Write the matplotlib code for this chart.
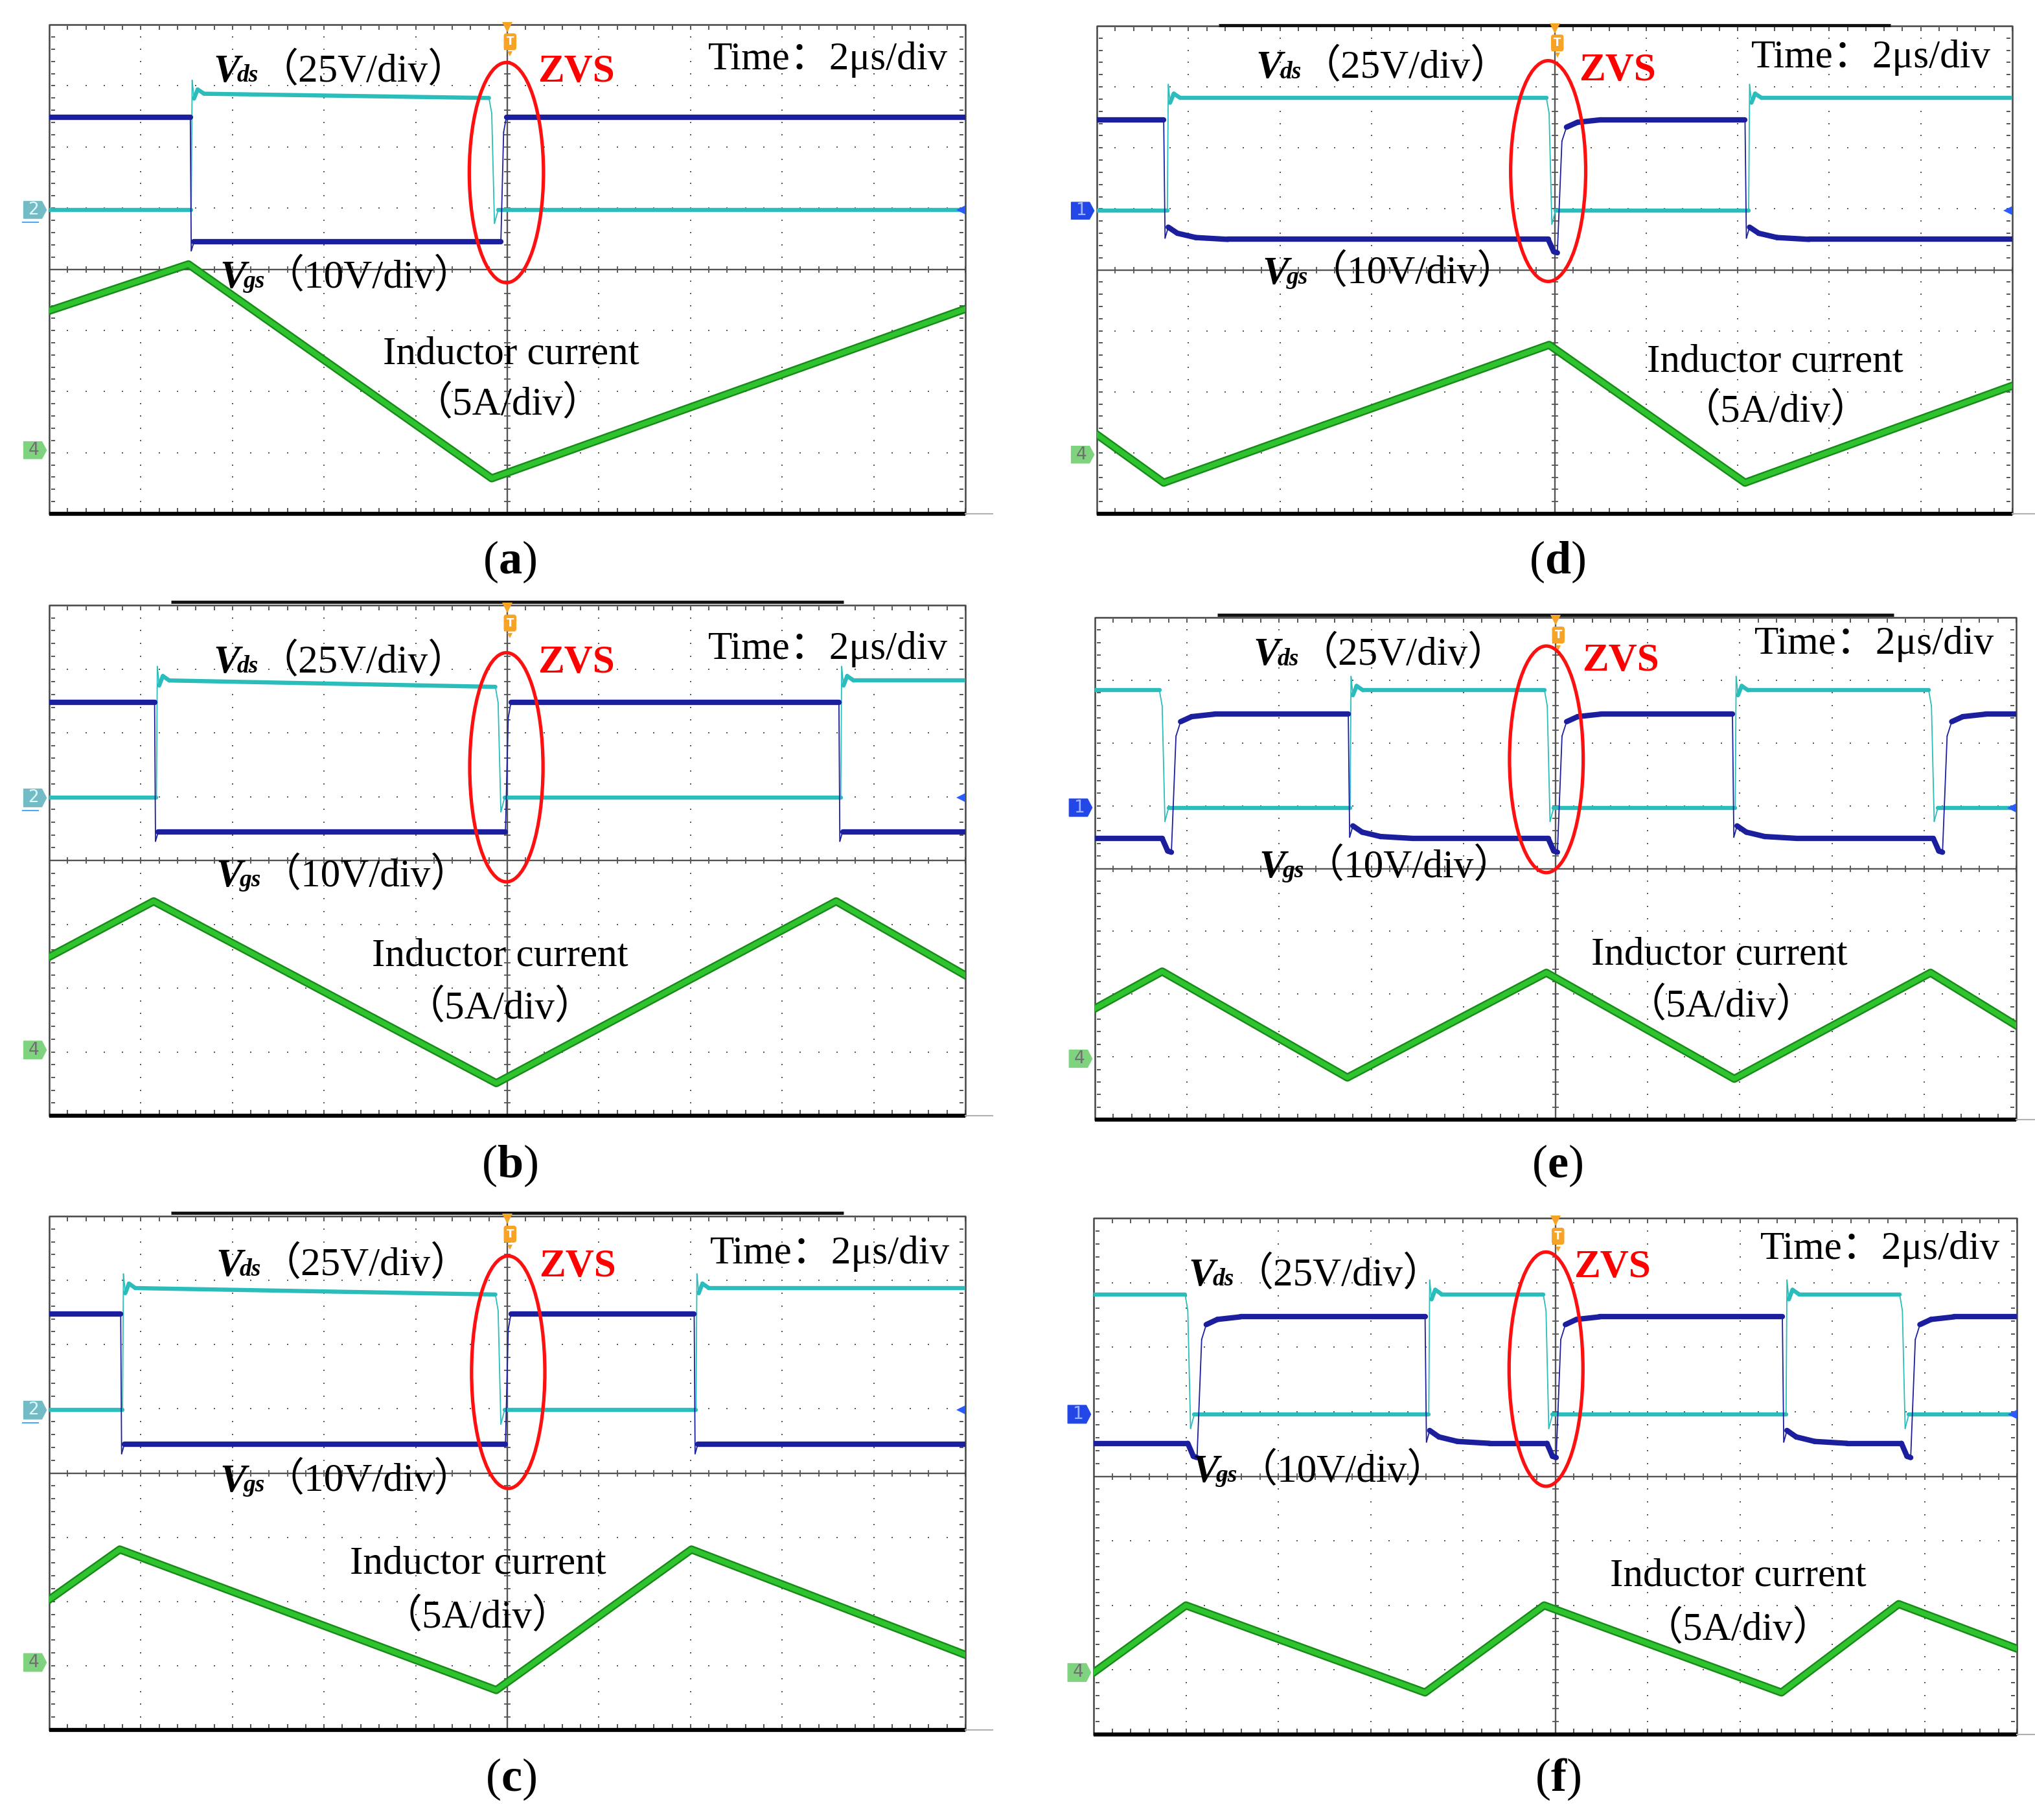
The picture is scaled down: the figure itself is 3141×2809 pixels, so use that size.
import numpy as np
import matplotlib
matplotlib.use("Agg")
import matplotlib.pyplot as plt
from matplotlib.collections import LineCollection
from matplotlib.patches import Ellipse, Polygon

plt.rcParams['mathtext.fontset'] = 'custom'
plt.rcParams['mathtext.rm'] = 'Liberation Serif'
plt.rcParams['mathtext.bf'] = 'Liberation Serif:bold'

SERIF = ['Liberation Serif', 'Noto Sans CJK SC']
W, H = 3141, 2809

panels = ['a', 'b', 'c', 'd', 'e', 'f']

# ---- waveform data, in screen divisions (10 x 8 grid) ----
# Vgs: switching instants, levels, state at t=0, edge shape
vgs_edges = {'a': [1.54, 4.93], 'b': [1.15, 4.98, 8.62], 'c': [0.78, 4.98, 7.04],
             'd': [0.73, 5.05, 7.08], 'e': [0.85, 2.75, 5.04, 6.92, 9.22],
             'f': [1.14, 3.59, 5.03, 7.46, 8.87]}
vgs_low = {'a': 4.45, 'b': 4.45, 'c': 4.45, 'd': 4.50, 'e': 4.48, 'f': 4.51}
vgs_high = {'a': 6.49, 'b': 6.48, 'c': 6.48, 'd': 6.46, 'e': 6.46, 'f': 6.47}
vgs_start_high = {'a': True, 'b': True, 'c': True, 'd': True, 'e': False, 'f': False}
vgs_soft = {'a': False, 'b': False, 'c': False, 'd': True, 'e': True, 'f': True}

# Vds: switching instants, levels (high level at start / end of a plateau)
vds_edges = {'a': [1.55, 4.83], 'b': [1.17, 4.90, 8.64], 'c': [0.80, 4.90, 7.06],
             'd': [0.77, 4.94, 7.12], 'e': [0.73, 2.77, 4.91, 6.95, 9.08],
             'f': [1.02, 3.63, 4.90, 7.50, 8.76]}
vds_low = {'a': 4.97, 'b': 4.98, 'c': 4.98, 'd': 4.97, 'e': 4.97, 'f': 4.96}
vds_high = {'a': 6.87, 'b': 6.82, 'c': 6.88, 'd': 6.82, 'e': 6.84, 'f': 6.82}
vds_high_end = {'a': 6.80, 'b': 6.72, 'c': 6.78, 'd': 6.82, 'e': 6.84, 'f': 6.82}
vds_start_high = {'a': False, 'b': False, 'c': False, 'd': False, 'e': True, 'f': True}

# inductor current, corner points
il_t = {'a': [0, 1.52, 4.83, 10], 'b': [0, 1.14, 4.88, 8.59, 10],
        'c': [0, 0.77, 4.88, 7.01, 10], 'd': [0, 0.73, 4.94, 7.08, 10],
        'e': [0, 0.73, 2.74, 4.90, 6.94, 9.07, 10], 'f': [0, 1.0, 3.59, 4.88, 7.45, 8.72, 10]}
il_v = {'a': [3.32, 4.08, 0.58, 3.35], 'b': [2.49, 3.36, 0.51, 3.36, 2.20],
        'c': [2.03, 2.81, 0.62, 2.81, 1.17], 'd': [1.30, 0.51, 2.77, 0.51, 2.10],
        'e': [1.77, 2.36, 0.67, 2.34, 0.65, 2.34, 1.50],
        'f': [0.96, 2.0, 0.65, 2.0, 0.65, 2.02, 1.33]}

# channel tags on the left edge
vds_channel = {'a': '2', 'b': '2', 'c': '2', 'd': '1', 'e': '1', 'f': '1'}
il_ref = {'a': 1.04, 'b': 1.03, 'c': 1.05, 'd': 0.97, 'e': 0.97, 'f': 0.96}

# ZVS ellipse: center x, center y, width, height (divisions)
zvs_ellipse = {'a': (4.99, 5.58, 0.81, 3.60), 'b': (4.99, 5.46, 0.80, 3.59),
               'c': (5.01, 5.57, 0.80, 3.62), 'd': (4.93, 5.62, 0.82, 3.62),
               'e': (4.90, 5.74, 0.80, 3.61), 'f': (4.90, 5.66, 0.80, 3.63)}

# ---- layout ----
frame_px = {'a': (76, 38, 1490, 793), 'b': (76, 934, 1490, 1722), 'c': (76, 1877, 1490, 2670),
            'd': (1693, 40, 3106, 793), 'e': (1690, 953, 3112, 1728), 'f': (1688, 1880, 3113, 2677)}
caption_px = {'a': (787, 867), 'b': (787, 1799), 'c': (789, 2746),
              'd': (2404, 867), 'e': (2404, 1799), 'f': (2404, 2746)}
# text anchors: vds label left, vgs label left, ZVS, time, "Inductor current", "(5A/div)"
txt = {'a': [(1.79, 7.28), (1.86, 3.91), (5.75, 7.28), (8.50, 7.48), (5.04, 2.67), (5.00, 1.83)],
       'b': [(1.79, 7.15), (1.82, 3.80), (5.75, 7.15), (8.50, 7.36), (4.92, 2.55), (4.92, 1.73)],
       'c': [(1.82, 7.28), (1.86, 3.92), (5.77, 7.26), (8.52, 7.47), (4.68, 2.64), (4.67, 1.80)],
       'd': [(1.74, 7.36), (1.81, 3.99), (5.69, 7.32), (8.46, 7.53), (7.41, 2.55), (7.41, 1.72)],
       'e': [(1.72, 7.45), (1.78, 4.07), (5.71, 7.36), (8.46, 7.63), (6.78, 2.68), (6.80, 1.85)],
       'f': [(1.03, 7.16), (1.07, 4.12), (5.62, 7.29), (8.52, 7.57), (6.98, 2.51), (6.98, 1.67)]}
top_bar = {'b': 0.05, 'c': 0.05, 'd': 0.01, 'e': 0.04}

C_VGS = '#1b1f9e'
C_VDS = '#2bbcbc'
C_IL = '#2fc42f'
C_IL_DARK = '#178a17'
ORANGE = '#f7a325'


def vds_wave(edges, lo, hi, hi_end, start_high):
    t, v = [0.0], [hi if start_high else lo]
    high = start_high
    for e in edges:
        if high:
            t += [e - 0.03, e, e + 0.03, e + 0.07]
            v += [hi_end, hi_end - 0.25, lo - 0.22, lo]
        else:
            t += [e, e + 0.01, e + 0.03, e + 0.07, e + 0.14]
            v += [lo, hi + 0.22, hi - 0.08, hi + 0.07, hi]
        high = not high
    t.append(10.0)
    v.append(hi if high else lo)
    return t, v


def vgs_wave(edges, lo, hi, start_high, soft):
    t, v = [0.0], [hi if start_high else lo]
    high = start_high
    for e in edges:
        if high and soft:
            t += [e, e + 0.015, e + 0.05, e + 0.15, e + 0.35, e + 0.7]
            v += [hi, lo + 0.02, lo + 0.2, lo + 0.1, lo + 0.03, lo]
        elif high:
            t += [e, e + 0.01, e + 0.04]
            v += [hi, lo - 0.15, lo]
        elif soft:
            t += [e - 0.12, e - 0.06, e - 0.02, e + 0.03, e + 0.08, e + 0.2, e + 0.45]
            v += [lo, lo - 0.2, lo - 0.22, hi - 0.35, hi - 0.12, hi - 0.04, hi]
        else:
            t += [e, e + 0.03, e + 0.06]
            v += [lo, hi - 0.25, hi]
        high = not high
    t.append(10.0)
    v.append(hi if high else lo)
    return t, v


def draw_trace(ax, t, v, color, lw_flat, lw_edge, z):
    t = np.asarray(t, float)
    v = np.asarray(v, float)
    pts = np.column_stack([t, v])
    segs = np.stack([pts[:-1], pts[1:]], axis=1)
    slope = np.abs(np.diff(v)) / np.maximum(np.abs(np.diff(t)), 1e-6)
    widths = np.where(slope > 4, lw_edge, lw_flat)
    ax.add_collection(LineCollection(segs, colors=color, linewidths=widths,
                                     capstyle='round', zorder=z))


def draw_screen(ax):
    ax.set_xlim(0, 10)
    ax.set_ylim(0, 8)
    ax.axis('off')
    mx = np.arange(0, 10.001, 0.2)
    my = np.arange(0, 8.001, 0.2)
    for i in range(1, 10):
        if i != 5:
            ax.plot(np.full_like(my, i), my, ls='none', marker='s', ms=1.9,
                    mew=0, color='#5a5a5a', zorder=1)
    for j in range(1, 8):
        if j != 4:
            ax.plot(mx, np.full_like(mx, j), ls='none', marker='s', ms=1.9,
                    mew=0, color='#5a5a5a', zorder=1)
    # border ticks
    ax.plot(np.full_like(my, 0.04), my, ls='none', marker='_', ms=4, mew=1.4, color='#555555')
    ax.plot(np.full_like(my, 9.96), my, ls='none', marker='_', ms=4, mew=1.4, color='#555555')
    ax.plot(mx, np.full_like(mx, 7.95), ls='none', marker='|', ms=4, mew=1.4, color='#555555')
    ax.plot(mx, np.full_like(mx, 0.06), ls='none', marker='|', ms=4, mew=1.4, color='#555555')
    # center cross with ticks
    ax.plot([0, 10], [4, 4], color='#555555', lw=1.7, zorder=1.5)
    ax.plot([5, 5], [0, 8], color='#555555', lw=1.7, zorder=1.5)
    ax.plot(mx, np.full_like(mx, 4), ls='none', marker='|', ms=7, mew=1.3, color='#555555')
    ax.plot(np.full_like(my, 5), my, ls='none', marker='_', ms=7, mew=1.3, color='#555555')
    # frame
    ax.plot([0, 0, 10, 10], [0, 8, 8, 0], color='#444444', lw=1.8, zorder=2, clip_on=False)
    ax.plot([0, 10], [0, 0], color='black', lw=4.5, zorder=2, clip_on=False,
            solid_capstyle='butt')
    ax.plot([10, 10.3], [0, 0], color='#b0b0b0', lw=1.5, clip_on=False)


def channel_tag(ax, y, num, fc, tc):
    verts = [(-0.28, y - 0.14), (-0.08, y - 0.14), (-0.03, y), (-0.08, y + 0.14), (-0.28, y + 0.14)]
    ax.add_patch(Polygon(verts, closed=True, fc=fc, ec=fc, lw=0.8, clip_on=False, zorder=3))
    ax.text(-0.17, y, num, ha='center', va='center', fontsize=19, color=tc,
            family='DejaVu Sans', clip_on=False, zorder=4)


def put(ax, xy, s, **kw):
    return ax.annotate(s, xy, xytext=(0, -14.5), textcoords='offset points',
                       va='baseline', annotation_clip=False, zorder=6, **kw)


def v_label(ax, xy, sub, unit):
    v = put(ax, xy, 'V', ha='left', fontsize=44, family='Liberation Serif',
            weight='bold', style='italic')
    s = ax.annotate(sub, xy=(1, 0), xycoords=v, xytext=(-3, 3.5), textcoords='offset points',
                    va='bottom', ha='left', fontsize=27, family='Liberation Serif',
                    weight='bold', style='italic', zorder=6)
    ax.annotate(unit, xy=(1, 0), xycoords=(s, v), va='bottom', ha='left',
                fontsize=44, family=SERIF, zorder=6)


fig = plt.figure(figsize=(W / 100, H / 100), dpi=100)
fig.patch.set_facecolor('white')

for p in panels:
    l, t, r, b = frame_px[p]
    ax = fig.add_axes([l / W, 1 - b / H, (r - l) / W, (b - t) / H])
    draw_screen(ax)

    if p in top_bar:
        yb = 8 + top_bar[p]
        ax.plot([1.33, 8.67], [yb, yb], color='#111111', lw=3.5, clip_on=False,
                solid_capstyle='butt')

    # traces
    it, iv = il_t[p], il_v[p]
    ax.plot(it, iv, color=C_IL_DARK, lw=9.0, solid_joinstyle='round', zorder=3)
    ax.plot(it, iv, color=C_IL, lw=5.5, solid_joinstyle='round', zorder=3.1)
    dt, dv = vds_wave(vds_edges[p], vds_low[p], vds_high[p], vds_high_end[p], vds_start_high[p])
    draw_trace(ax, dt, dv, C_VDS, 4.6, 1.3, 3.3)
    gt, gv = vgs_wave(vgs_edges[p], vgs_low[p], vgs_high[p], vgs_start_high[p], vgs_soft[p])
    draw_trace(ax, gt, gv, C_VGS, 6.0, 1.3, 3.5)

    # channel tags and right-side reference arrow
    if vds_channel[p] == '2':
        channel_tag(ax, vds_low[p], '2', '#73bcc6', '#dcfbff')
        ax.plot([-0.29, -0.12], [vds_low[p] - 0.2] * 2, color='#4aa8ff', lw=1.5, clip_on=False)
    else:
        channel_tag(ax, vds_low[p], '1', '#2347e6', '#9fb4ff')
    channel_tag(ax, il_ref[p], '4', '#7fd37f', '#707070')
    ax.plot(9.95, vds_low[p], marker='<', ms=10, color='#2a5cff', mew=0, clip_on=False, zorder=4)

    # trigger marker
    ax.plot(5.0, 7.96, marker='v', ms=11, color=ORANGE, mew=0, clip_on=False, zorder=5)
    ax.text(5.03, 7.72, 'T', ha='center', va='center', fontsize=12, color='white',
            weight='bold', family='DejaVu Sans', zorder=5,
            bbox=dict(boxstyle='round,pad=0.2', fc=ORANGE, ec=ORANGE))
    ax.plot(5.03, 7.52, marker='v', ms=6, color=ORANGE, mew=0, zorder=5)

    # ZVS ellipse
    cx, cy, ew, eh = zvs_ellipse[p]
    ax.add_patch(Ellipse((cx, cy), ew, eh, fill=False, ec='#ff1010', lw=3.8, zorder=5))

    # annotations
    pos = txt[p]
    v_label(ax, pos[0], 'ds', '（25V/div）')
    v_label(ax, pos[1], 'gs', '（10V/div）')
    put(ax, pos[2], 'ZVS', ha='center', fontsize=44, family='Liberation Serif',
        weight='bold', color='#ff0000')
    put(ax, pos[3], 'Time：2μs/div', ha='center', fontsize=44, family=SERIF)
    put(ax, pos[4], 'Inductor current', ha='center', fontsize=44, family=SERIF)
    put(ax, pos[5], '（5A/div）', ha='center', fontsize=44, family=SERIF)

    cxp, cyp = caption_px[p]
    fig.text(cxp / W, 1 - cyp / H, r'($\mathbf{%s}$)' % p, ha='center', va='center',
             fontsize=52, family='Liberation Serif')

fig.savefig('out.png', dpi=100, facecolor='white')
